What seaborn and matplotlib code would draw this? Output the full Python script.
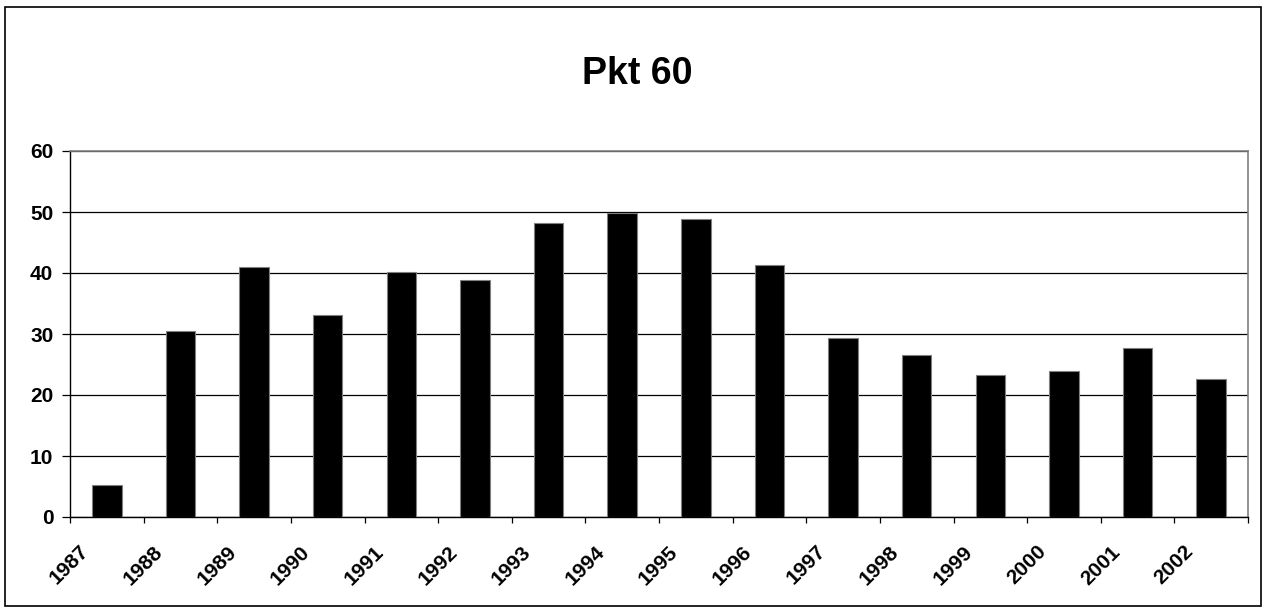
import numpy as np
import pandas as pd
import matplotlib
matplotlib.use("Agg")
import matplotlib.pyplot as plt
import matplotlib.transforms as mtransforms
from matplotlib.patches import Rectangle
import seaborn as sns

years = [str(y) for y in range(1987, 2003)]
values = [5.2, 30.5, 41.0, 33.1, 40.2, 38.8, 48.2, 49.9, 48.8, 41.3,
          29.4, 26.5, 23.2, 24.0, 27.7, 22.6]
yticks = [0, 10, 20, 30, 40, 50, 60]
title = "Pkt 60"

df = pd.DataFrame({"year": years, "value": values})

sns.set_style("white")
plt.rcParams["font.family"] = ["Liberation Sans", "DejaVu Sans"]
plt.rcParams["font.weight"] = "bold"
plt.rcParams["text.color"] = "black"
plt.rcParams["xtick.color"] = "black"
plt.rcParams["ytick.color"] = "black"

fig = plt.figure(figsize=(12.66, 6.10), dpi=100)
ax = fig.add_axes([70 / 1266, 93 / 610, 1178 / 1266, 366 / 610])

sns.barplot(data=df, x="year", y="value", color="black", width=0.4,
            edgecolor="#808080", linewidth=0.8, saturation=1, ax=ax, zorder=3)

ax.set_xlim(-0.5, len(years) - 0.5)
ax.set_ylim(0, 60)
ax.set_yticks(yticks, [str(t) for t in yticks])
ax.grid(axis="y", color="black", linewidth=0.9, zorder=0)
ax.set_axisbelow(True)
ax.tick_params(axis="y", direction="out", length=6, width=0.9, color="black",
               labelcolor="black", labelsize=15, pad=6, left=True)

# tick marks sit between categories, labels sit under the bars
ax.set_xticks(np.arange(-0.5, len(years)), [""] * (len(years) + 1))
ax.tick_params(axis="x", which="major", direction="out", length=4.5, width=0.9,
               color="black", bottom=True)
ax.set_xticks(np.arange(len(years)), years, minor=True)
ax.tick_params(axis="x", which="minor", length=0, pad=18, labelcolor="black",
               labelsize=15)
offset = mtransforms.ScaledTranslation(-0.14, 0, fig.dpi_scale_trans)
for lab in ax.get_xticklabels(minor=True):
    lab.set_rotation(45)
    lab.set_ha("right")
    lab.set_va("top")
    lab.set_transform(lab.get_transform() + offset)

ax.set_xlabel("")
ax.set_ylabel("")

for side in ["left", "bottom"]:
    ax.spines[side].set_color("black")
    ax.spines[side].set_linewidth(1.0)
for side in ["top", "right"]:
    ax.spines[side].set_visible(True)
    ax.spines[side].set_color("#808080")
    ax.spines[side].set_linewidth(1.2)

fig.text(637 / 1266, 1 - 74 / 610, title, ha="center", va="center",
         fontsize=27, fontweight="bold", color="black")

fig.patches.append(Rectangle((5 / 1266, 4 / 610), 1256 / 1266, 599 / 610,
                             transform=fig.transFigure, fill=False,
                             edgecolor="black", linewidth=1.2))

fig.savefig("out.png", dpi=100, facecolor="white")
plt.close()
